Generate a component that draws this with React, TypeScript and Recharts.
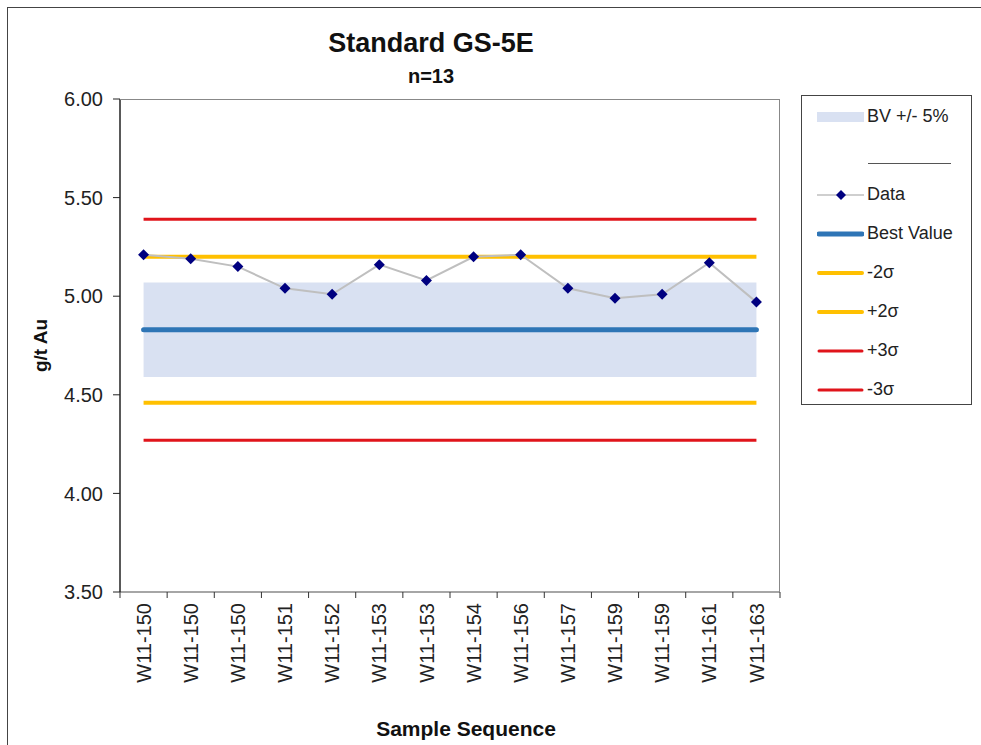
import { ComposedChart, Line, Area, XAxis, YAxis, Legend, Label } from "recharts";

const samples = [
  "W11-150", "W11-150", "W11-150", "W11-151", "W11-152", "W11-153", "W11-153",
  "W11-154", "W11-156", "W11-157", "W11-159", "W11-159", "W11-161", "W11-163",
];
const assays = [5.21, 5.19, 5.15, 5.04, 5.01, 5.16, 5.08, 5.2, 5.21, 5.04, 4.99, 5.01, 5.17, 4.97];

const bestValue = 4.83;
const bandLow = 4.59;
const bandHigh = 5.07;
const plus2sd = 5.2;
const minus2sd = 4.46;
const plus3sd = 5.39;
const minus3sd = 4.27;

const yTicks = [3.5, 4.0, 4.5, 5.0, 5.5, 6.0];

const rows = samples.map((s, i) => ({
  idx: i,
  sample: s,
  data: assays[i],
  band: [bandLow, bandHigh],
  best: bestValue,
  p2: plus2sd,
  m2: minus2sd,
  p3: plus3sd,
  m3: minus3sd,
}));

const FONT = "'Liberation Sans', Arial, sans-serif";
const YELLOW = "#FFC000";
const RED = "#E0141B";
const BLUE = "#2E75B6";
const BAND = "#D9E1F2";

const Diamond = (props: any) => {
  const { cx, cy } = props;
  if (cx == null || cy == null) return null;
  const r = 5.5;
  return (
    <polygon
      points={`${cx},${cy - r} ${cx + r},${cy} ${cx},${cy + r} ${cx - r},${cy}`}
      fill="#000080"
    />
  );
};

const XTick = (props: any) => {
  const { x, y, payload, index, visibleTicksCount } = props;
  const count = visibleTicksCount || samples.length;
  const step = payload && payload.offset ? payload.offset * 2 : 660 / count;
  const ty = y + 11;
  const label = samples[payload.value] ?? payload.value;
  return (
    <g>
      <line x1={x - step / 2} x2={x - step / 2} y1={y} y2={y + 6} stroke="#333" />
      {index === count - 1 && (
        <line x1={x + step / 2} x2={x + step / 2} y1={y} y2={y + 6} stroke="#333" />
      )}
      <text
        x={x}
        y={ty}
        dy="0.36em"
        transform={`rotate(-90, ${x}, ${ty})`}
        textAnchor="end"
        fontSize={20}
        fontFamily={FONT}
        fill="#222"
      >
        {label}
      </text>
    </g>
  );
};

const legendItems = [
  { name: "BV +/- 5%", kind: "band", color: BAND },
  { name: "", kind: "sep", color: "#555" },
  { name: "Data", kind: "data", color: "#BFBFBF" },
  { name: "Best Value", kind: "line", color: BLUE, w: 5 },
  { name: "-2σ", kind: "line", color: YELLOW, w: 4 },
  { name: "+2σ", kind: "line", color: YELLOW, w: 4 },
  { name: "+3σ", kind: "line", color: RED, w: 3 },
  { name: "-3σ", kind: "line", color: RED, w: 3 },
];

const renderLegend = () => (
  <div
    style={{
      border: "1px solid #444",
      background: "#fff",
      height: 310,
      boxSizing: "border-box",
      paddingTop: 1,
      fontFamily: FONT,
      fontSize: 18,
      color: "#222",
    }}
  >
    {legendItems.map((it, i) => (
      <div key={i} style={{ height: 39, display: "flex", alignItems: "center", position: "relative" }}>
        {it.kind === "sep" ? (
          <div
            style={{
              position: "absolute",
              left: 66,
              width: 83,
              top: 27,
              borderTop: "1px solid #555",
            }}
          />
        ) : (
          <>
            <svg width={47} height={14} style={{ marginLeft: 15, marginRight: 3 }}>
              {it.kind === "band" && <rect x={0} y={2} width={47} height={10} fill={it.color} />}
              {it.kind === "line" && (
                <line x1={2} x2={45} y1={7} y2={7} stroke={it.color} strokeWidth={it.w} strokeLinecap="round" />
              )}
              {it.kind === "data" && (
                <>
                  <line x1={0} x2={47} y1={7} y2={7} stroke={it.color} strokeWidth={1.5} />
                  <polygon points="24,2 29,7 24,12 19,7" fill="#000080" />
                </>
              )}
            </svg>
            <span>{it.name}</span>
          </>
        )}
      </div>
    ))}
  </div>
);

export default function App() {
  return (
    <div
      style={{
        position: "absolute",
        left: 0,
        top: 0,
        width: 981,
        height: 745,
        overflow: "hidden",
        background: "#fff",
      }}
    >
      <div
        style={{
          position: "absolute",
          left: 7,
          top: 7,
          width: 1100,
          height: 1000,
          border: "1px solid #444",
        }}
      />
      <div
        style={{
          position: "absolute",
          left: 0,
          top: 28,
          width: 862,
          textAlign: "center",
          fontFamily: FONT,
          fontWeight: "bold",
          fontSize: 27,
          lineHeight: "31px",
          color: "#111",
        }}
      >
        Standard GS-5E
      </div>
      <div
        style={{
          position: "absolute",
          left: 0,
          top: 65,
          width: 862,
          textAlign: "center",
          fontFamily: FONT,
          fontWeight: "bold",
          fontSize: 20,
          lineHeight: "23px",
          color: "#111",
        }}
      >
        n=13
      </div>
      <div style={{ position: "absolute", left: 0, top: 0 }}>
        <ComposedChart
          width={981}
          height={745}
          data={rows}
          margin={{ top: 99, right: 201, bottom: 8, left: 40 }}
        >
          <XAxis
            dataKey="idx"
            type="category"
            scale="band"
            interval={0}
            height={145}
            tickSize={0}
            tickMargin={0}
            tickLine={false}
            axisLine={{ stroke: "#888", strokeWidth: 1.5 }}
            tick={<XTick />}
          >
            <Label
              content={({ viewBox }: any) => (
                <text
                  x={viewBox.x + viewBox.width / 2 + 16}
                  y={viewBox.y + viewBox.height - 1}
                  textAnchor="middle"
                  fontFamily={FONT}
                  fontWeight="bold"
                  fontSize={21}
                  fill="#111"
                >
                  Sample Sequence
                </text>
              )}
            />
          </XAxis>
          <YAxis
            domain={[3.5, 6]}
            ticks={yTicks}
            width={80}
            tickSize={7}
            tickMargin={10}
            tickFormatter={(v: number) => v.toFixed(2)}
            tick={{ fontSize: 20, fontFamily: FONT, fill: "#222" }}
            tickLine={{ stroke: "#222" }}
            axisLine={{ stroke: "#222", strokeWidth: 1.5 }}
          >
            <Label
              content={({ viewBox }: any) => {
                const cx = viewBox.x;
                const cy = viewBox.y + viewBox.height / 2;
                return (
                  <text
                    x={cx}
                    y={cy}
                    dy="0.36em"
                    transform={`rotate(-90, ${cx}, ${cy})`}
                    textAnchor="middle"
                    fontFamily={FONT}
                    fontWeight="bold"
                    fontSize={19}
                    fill="#111"
                  >
                    g/t Au
                  </text>
                );
              }}
            />
          </YAxis>
          <Legend
            layout="vertical"
            align="center"
            verticalAlign="middle"
            content={renderLegend}
            wrapperStyle={{ left: 801, top: 95, width: 171, height: 310 }}
          />
          <Area
            dataKey="band"
            name="BV +/- 5%"
            fill={BAND}
            fillOpacity={1}
            stroke="none"
            isAnimationActive={false}
          />
          <Line dataKey="m3" name="-3σ" stroke={RED} strokeWidth={3} dot={false} isAnimationActive={false} />
          <Line dataKey="p3" name="+3σ" stroke={RED} strokeWidth={3} dot={false} isAnimationActive={false} />
          <Line dataKey="m2" name="-2σ" stroke={YELLOW} strokeWidth={4} dot={false} isAnimationActive={false} />
          <Line dataKey="p2" name="+2σ" stroke={YELLOW} strokeWidth={4} dot={false} isAnimationActive={false} />
          <Line
            dataKey="best"
            name="Best Value"
            stroke={BLUE}
            strokeWidth={5}
            strokeLinecap="round"
            dot={false}
            isAnimationActive={false}
          />
          <Line
            dataKey="data"
            name="Data"
            stroke="#BFBFBF"
            strokeWidth={2}
            dot={<Diamond />}
            activeDot={false}
            isAnimationActive={false}
          />
        </ComposedChart>
      </div>
      <div
        style={{
          position: "absolute",
          left: 120,
          top: 99,
          width: 660,
          height: 493,
          boxSizing: "border-box",
          borderTop: "1px solid #888",
          borderRight: "1px solid #888",
          pointerEvents: "none",
        }}
      />
    </div>
  );
}
